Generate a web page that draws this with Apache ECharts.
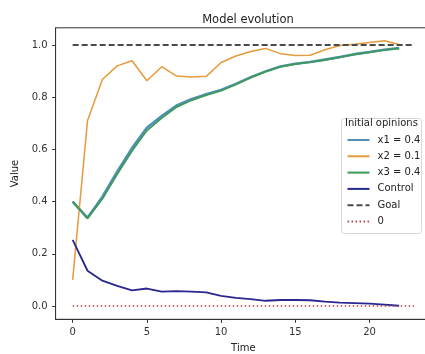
<!DOCTYPE html>
<html>
<head>
<meta charset="utf-8">
<script src="https://cdn.jsdelivr.net/npm/echarts@6/dist/echarts.min.js"></script>
<style>
  html, body { margin: 0; padding: 0; background: #fff; }
  #chart { width: 425px; height: 354px; }
</style>
</head>
<body>
<div id="chart"></div>
<script>
// time steps
const time = [0,1,2,3,4,5,6,7,8,9,10,11,12,13,14,15,16,17,18,19,20,21,22]
// opinions
const x1 = [0.40,0.338,0.418,0.515,0.605,0.683,0.728,0.768,0.792,0.811,0.828,0.851,0.877,0.899,0.918,0.928,0.935,0.944,0.954,0.965,0.973,0.982,0.988]
const x2 = [0.10,0.71,0.868,0.92,0.94,0.863,0.917,0.881,0.877,0.88,0.933,0.958,0.975,0.987,0.967,0.96,0.961,0.982,0.998,1.003,1.01,1.016,1.002]
const x3 = [0.40,0.335,0.41,0.505,0.594,0.672,0.72,0.762,0.788,0.808,0.825,0.849,0.875,0.898,0.917,0.927,0.934,0.943,0.953,0.964,0.972,0.981,0.987]
const control = [0.253,0.135,0.097,0.077,0.06,0.067,0.055,0.057,0.055,0.052,0.039,0.031,0.026,0.02,0.023,0.023,0.022,0.017,0.013,0.011,0.009,0.005,0.001]
// reference lines
const refX = [0, 23]
const goal = [1, 1]
const zero = [0, 0]
const yTicks = [0, 0.2, 0.4, 0.6, 0.8, 1.0]
const xTicks = [0, 5, 10, 15, 20]

const pair = (xs, ys) => xs.map((x, i) => [x, ys[i]])

const chart = echarts.init(document.getElementById('chart'), null, { renderer: 'canvas' })
const font = 'DejaVu Sans'

const option = {
  animation: false,
  backgroundColor: '#fff',
  title: {
    text: 'Model evolution',
    left: 243, top: 9,
    textAlign: 'center',
    textStyle: { fontFamily: font, fontSize: 11.5, fontWeight: 'normal', color: '#222' }
  },
  grid: {
    left: 55.6, top: 27.8, width: 375.5, height: 291.5,
    outerBoundsMode: 'none', containLabel: false,
    show: true, borderColor: '#333', borderWidth: 1, backgroundColor: 'transparent'
  },
  xAxis: {
    type: 'value', min: -1.15, max: 24.15,
    name: 'Time', nameLocation: 'middle', nameGap: 24,
    nameTextStyle: { fontFamily: font, fontSize: 10, color: '#222' },
    axisLine: { show: true, onZero: false, lineStyle: { color: '#333' } },
    axisTick: { show: true, length: 3.5, customValues: xTicks, lineStyle: { color: '#333' } },
    axisLabel: { customValues: xTicks, margin: 8, fontFamily: font, fontSize: 10, color: '#333' },
    splitLine: { show: false }
  },
  yAxis: {
    type: 'value', min: -0.051, max: 1.066,
    name: 'Value', nameLocation: 'middle', nameGap: 26, nameRotate: 90,
    nameTextStyle: { fontFamily: font, fontSize: 10, color: '#222' },
    axisLine: { show: true, onZero: false, lineStyle: { color: '#333' } },
    axisTick: { show: true, length: 3.5, customValues: yTicks, lineStyle: { color: '#333' } },
    axisLabel: {
      customValues: yTicks, margin: 8, fontFamily: font, fontSize: 10, color: '#333',
      formatter: v => v.toFixed(1)
    },
    splitLine: { show: false }
  },
  legend: {
    orient: 'vertical', left: 346.5, top: 133, padding: 0,
    itemWidth: 22, itemHeight: 14, itemGap: 2.3,
    itemStyle: { opacity: 0 },
    textStyle: { fontFamily: font, fontSize: 10, color: '#222', lineHeight: 14, padding: [0, 0, 0, 3] },
    data: ['x1 = 0.4', 'x2 = 0.1', 'x3 = 0.4', 'Control', 'Goal', '0']
  },
  graphic: [
    {
      type: 'rect', z: 1, left: 341, top: 118,
      shape: { width: 80, height: 115, r: 3 },
      style: { fill: 'rgba(255,255,255,0.85)', stroke: '#d8d8d8', lineWidth: 1 }
    },
    {
      type: 'text', z: 2, left: 345, top: 118.5,
      style: { text: 'Initial opinions', font: '10px "DejaVu Sans"', fill: '#222' }
    }
  ],
  series: [
    {
      name: 'x1 = 0.4', type: 'line', data: pair(time, x1), showSymbol: false, symbol: 'none',
      lineStyle: { color: '#4f8fb8', width: 2.6 }, itemStyle: { color: '#7fb0c8' }
    },
    {
      name: 'x2 = 0.1', type: 'line', data: pair(time, x2), showSymbol: false, symbol: 'none',
      lineStyle: { color: '#e69a3c', width: 1.5 }, itemStyle: { color: '#e8a24a' }
    },
    {
      name: 'x3 = 0.4', type: 'line', data: pair(time, x3), showSymbol: false, symbol: 'none',
      lineStyle: { color: '#3e9a55', width: 1.7 }, itemStyle: { color: '#72b874' }
    },
    {
      name: 'Control', type: 'line', data: pair(time, control), showSymbol: false, symbol: 'none',
      lineStyle: { color: '#27278f', width: 1.8 }, itemStyle: { color: '#5a5aa2' }
    },
    {
      name: 'Goal', type: 'line', data: pair(refX, goal), showSymbol: false, symbol: 'none',
      lineStyle: { color: '#4a4a4a', width: 2, type: [6, 3] }, itemStyle: { color: '#222' }
    },
    {
      name: '0', type: 'line', data: pair(refX, zero), showSymbol: false, symbol: 'none',
      lineStyle: { color: '#b24a4a', width: 1.6, type: [1.6, 2.4] }, itemStyle: { color: '#c06a6a' }
    }
  ]
}

chart.setOption(option)
</script>
</body>
</html>
